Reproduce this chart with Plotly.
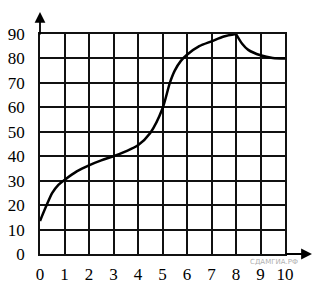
import plotly.graph_objects as go

# Data
x_rise = [0, 0.25, 0.5, 0.75, 1, 1.5, 2, 2.5, 3, 3.5, 4, 4.5, 5, 5.3, 5.5, 5.75, 6, 6.5, 7, 7.5, 8]
y_rise = [13.5, 19.5, 25, 28.3, 30.3, 33.8, 36.3, 38.3, 40, 42, 44.5, 49.5, 59.5, 70, 75, 79, 81.5, 85, 87, 89, 90]
x_fall = [8, 8.25, 8.5, 9, 9.5, 10]
y_fall = [90, 86, 83.5, 81.3, 80.2, 80]
x_ticks = list(range(0, 11))
y_ticks = list(range(0, 100, 10))
watermark = "СДАМГИА.РФ"

SERIF = "Liberation Serif"

fig = go.Figure()
for xs, ys in [(x_rise, y_rise), (x_fall, y_fall)]:
    fig.add_trace(go.Scatter(x=xs, y=ys, mode="lines",
                             line=dict(color="black", width=2.5, shape="spline", smoothing=0.8),
                             hoverinfo="skip", showlegend=False))

fig.update_xaxes(range=[0, 10], tickvals=x_ticks, ticktext=[str(v) for v in x_ticks],
                 showgrid=True, gridcolor="#111", gridwidth=1.5, zeroline=False,
                 showline=True, linecolor="#111", linewidth=1.8, mirror=True,
                 ticks="", tickfont=dict(family=SERIF, size=17, color="black"), fixedrange=True,
                 ticklabelstandoff=4, automargin=False)
fig.update_yaxes(range=[0, 90], tickvals=y_ticks, ticktext=[str(v) for v in y_ticks],
                 showgrid=True, gridcolor="#111", gridwidth=1.5, zeroline=False,
                 showline=True, linecolor="#111", linewidth=1.8, mirror=True,
                 ticks="", tickfont=dict(family=SERIF, size=17, color="black"), fixedrange=True,
                 ticklabelstandoff=10, automargin=False)

fig.add_annotation(x=0, y=1.1, xref="paper", yref="paper", ax=0, ay=24, axref="pixel", ayref="pixel",
                   showarrow=True, arrowhead=2, arrowsize=1.2, arrowwidth=1.8, arrowcolor="black", text="")
fig.add_annotation(x=1.11, y=0, xref="paper", yref="paper", ax=-28, ay=0,
                   showarrow=True, arrowhead=2, arrowsize=1.2, arrowwidth=1.8, arrowcolor="black", text="")
fig.add_annotation(x=(300 - 40) / 245.3, y=(254 - 268) / 220, xref="paper", yref="paper",
                   text=watermark, showarrow=False,
                   font=dict(family="DejaVu Sans", size=7, color="#b0b0b0"))

fig.update_layout(width=323, height=296, margin=dict(l=40, r=37.7, t=34, b=42),
                  font=dict(family=SERIF, color="black"),
                  plot_bgcolor="white", paper_bgcolor="white")
fig.write_html("out.html")
